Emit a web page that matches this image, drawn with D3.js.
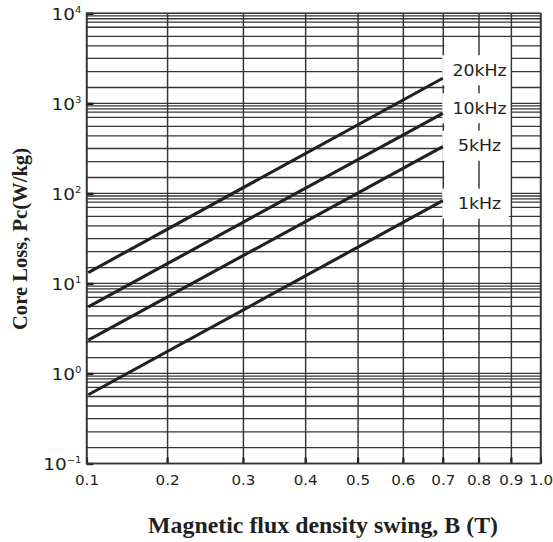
<!DOCTYPE html>
<html><head><meta charset="utf-8">
<script src="https://cdn.jsdelivr.net/npm/d3@7"></script>
<style>html,body{margin:0;padding:0;background:#fff;}</style>
</head><body><svg id="chart" width="553" height="542"></svg>
<script>
// ---------- data ----------
const frequencies = ["20kHz", "10kHz", "5kHz", "1kHz"];
const fluxDensity = [0.105, 0.7];            // B (T) at the two ends of each line
const loss20kHz = [13.2, 1900];               // Pc (W/kg)
const loss10kHz = [5.5, 775];
const loss5kHz  = [2.35, 330];
const loss1kHz  = [0.58, 83];
const xTickValues = [0.1, 0.2, 0.3, 0.4, 0.5, 0.6, 0.7, 0.8, 0.9, 1.0];
const xTickLabels = ["0.1", "0.2", "0.3", "0.4", "0.5", "0.6", "0.7", "0.8", "0.9", "1.0"];
const yDecades = [0.1, 1, 10, 100, 1000, 10000];
const yExponents = ["\u22121", "0", "1", "2", "3", "4"];
const yMinorSteps = [1.5, 2.25, 3.15, 4.35, 5.55, 7, 8, 8.7, 9.35];

// ---------- layout ----------
const svg = d3.select("#chart");
const plot = {left: 86.5, right: 540.5, top: 13.3, bottom: 463.5};
const ink = "#231f20", gridColor = "#353535";
const sans = "'DejaVu Sans', sans-serif", serif = "'Liberation Serif', 'Times New Roman', serif";

// x: warped logarithmic scale as printed on the sheet
const xFrac = d3.scaleLog().domain([0.1, 1]).range([0, 1]);
const xPix = d3.scalePow().exponent(1.44).domain([0, 1]).range([plot.left, plot.right]);
function makeX() {
  const s = v => xPix(xFrac(v));
  s.domain = () => xFrac.domain();
  s.range = () => xPix.range();
  s.copy = makeX;
  return s;
}
const x = makeX();
const y = d3.scaleLog().domain([0.1, 1e4]).range([plot.bottom, plot.top]);

// ---------- horizontal grid ----------
const hGrid = yDecades.concat(yDecades.slice(0, -1).flatMap(d => yMinorSteps.map(m => d * m)));
svg.append("g").selectAll("line").data(hGrid).join("line")
  .attr("x1", plot.left).attr("x2", plot.right)
  .attr("y1", d => y(d)).attr("y2", d => y(d))
  .attr("stroke", gridColor).attr("stroke-width", 1.3);

// white column behind the frequency labels (hides horizontal grid)
const maskX0 = x(0.7) + 1.5, maskX1 = x(0.9) + 0.5;
svg.append("rect").attr("x", maskX0).attr("y", 40).attr("width", maskX1 - maskX0).attr("height", 176)
  .attr("fill", "#fff");

// ---------- vertical grid ----------
const vGrid = svg.append("g").attr("transform", `translate(0,${plot.top})`)
  .call(d3.axisBottom(x).tickValues(xTickValues).tickSize(plot.bottom - plot.top).tickFormat(""));
vGrid.select(".domain").remove();
vGrid.selectAll("line").attr("stroke", gridColor).attr("stroke-width", 1.45);

// ---------- series ----------
const lossSeries = [loss20kHz, loss10kHz, loss5kHz, loss1kHz];
const series = frequencies.map((name, i) => ({
  name,
  values: fluxDensity.map((b, j) => ({b, p: lossSeries[i][j]}))
}));
const labelDy = [-8, -5, -1, 3];
const labelX = x(0.8) + 1;

// label boxes
svg.append("g").selectAll("rect").data(series).join("rect")
  .attr("x", maskX0 - 2).attr("width", maskX1 - maskX0 - 0.5)
  .attr("y", (d, i) => y(d.values[1].p) + labelDy[i] - 15).attr("height", 30)
  .attr("fill", "#fff");

// ---------- axes ----------
const xAxis = svg.append("g").attr("transform", `translate(0,${plot.bottom})`)
  .call(d3.axisBottom(x).tickValues(xTickValues).tickSizeInner(-6).tickSizeOuter(0)
    .tickPadding(12).tickFormat((d, i) => xTickLabels[i]));
xAxis.select(".domain").remove();
xAxis.selectAll("line").attr("stroke", ink).attr("stroke-width", 2.2);
xAxis.selectAll("text").attr("font-family", sans).attr("font-size", 14).attr("fill", ink)
  .attr("transform", "scale(1.08,1)");

const yAxis = svg.append("g").attr("transform", `translate(${plot.left},0)`)
  .call(d3.axisLeft(y).tickValues(yDecades).tickSizeInner(-7).tickSizeOuter(0).tickFormat(""));
yAxis.select(".domain").remove();
yAxis.selectAll("line").attr("stroke", ink).attr("stroke-width", 2.4);
const yt = yAxis.selectAll(".tick").append("text")
  .attr("transform", "translate(-5,0) scale(1.12,1)")
  .attr("text-anchor", "end").attr("font-family", sans).attr("font-size", 16.5).attr("fill", ink)
  .attr("dy", "0.36em");
yt.append("tspan").text("10");
yt.append("tspan").attr("dy", -6.5).attr("font-size", 9).text((d, i) => yExponents[i]);

// frame
svg.append("rect").attr("x", plot.left).attr("y", plot.top)
  .attr("width", plot.right - plot.left).attr("height", plot.bottom - plot.top)
  .attr("fill", "none").attr("stroke", gridColor).attr("stroke-width", 1.45);

// ---------- lines ----------
const line = d3.line().x(d => x(d.b)).y(d => y(d.p));
svg.append("g").selectAll("path").data(series).join("path")
  .attr("d", d => line(d.values))
  .attr("fill", "none").attr("stroke", ink).attr("stroke-width", 3.1).attr("stroke-linecap", "butt");

// frequency labels
svg.append("g").selectAll("text").data(series).join("text")
  .attr("transform", (d, i) => `translate(${labelX},${y(d.values[1].p) + labelDy[i] + 5.6}) scale(1.12,1)`)
  .attr("text-anchor", "middle").attr("font-family", sans).attr("font-size", 15.5).attr("fill", ink)
  .text(d => d.name);

// ---------- axis titles ----------
svg.append("text").attr("x", 323).attr("y", 532.5).attr("text-anchor", "middle")
  .attr("font-family", serif).attr("font-weight", "bold").attr("font-size", 23).attr("fill", ink)
  .attr("textLength", 350).attr("lengthAdjust", "spacingAndGlyphs")
  .text("Magnetic flux density swing, B (T)");
svg.append("text").attr("transform", "translate(26.5,239) rotate(-90)").attr("text-anchor", "middle")
  .attr("font-family", serif).attr("font-weight", "bold").attr("font-size", 22).attr("fill", ink)
  .attr("textLength", 182).attr("lengthAdjust", "spacingAndGlyphs")
  .text("Core Loss, Pc(W/kg)");
</script>
</body></html>
